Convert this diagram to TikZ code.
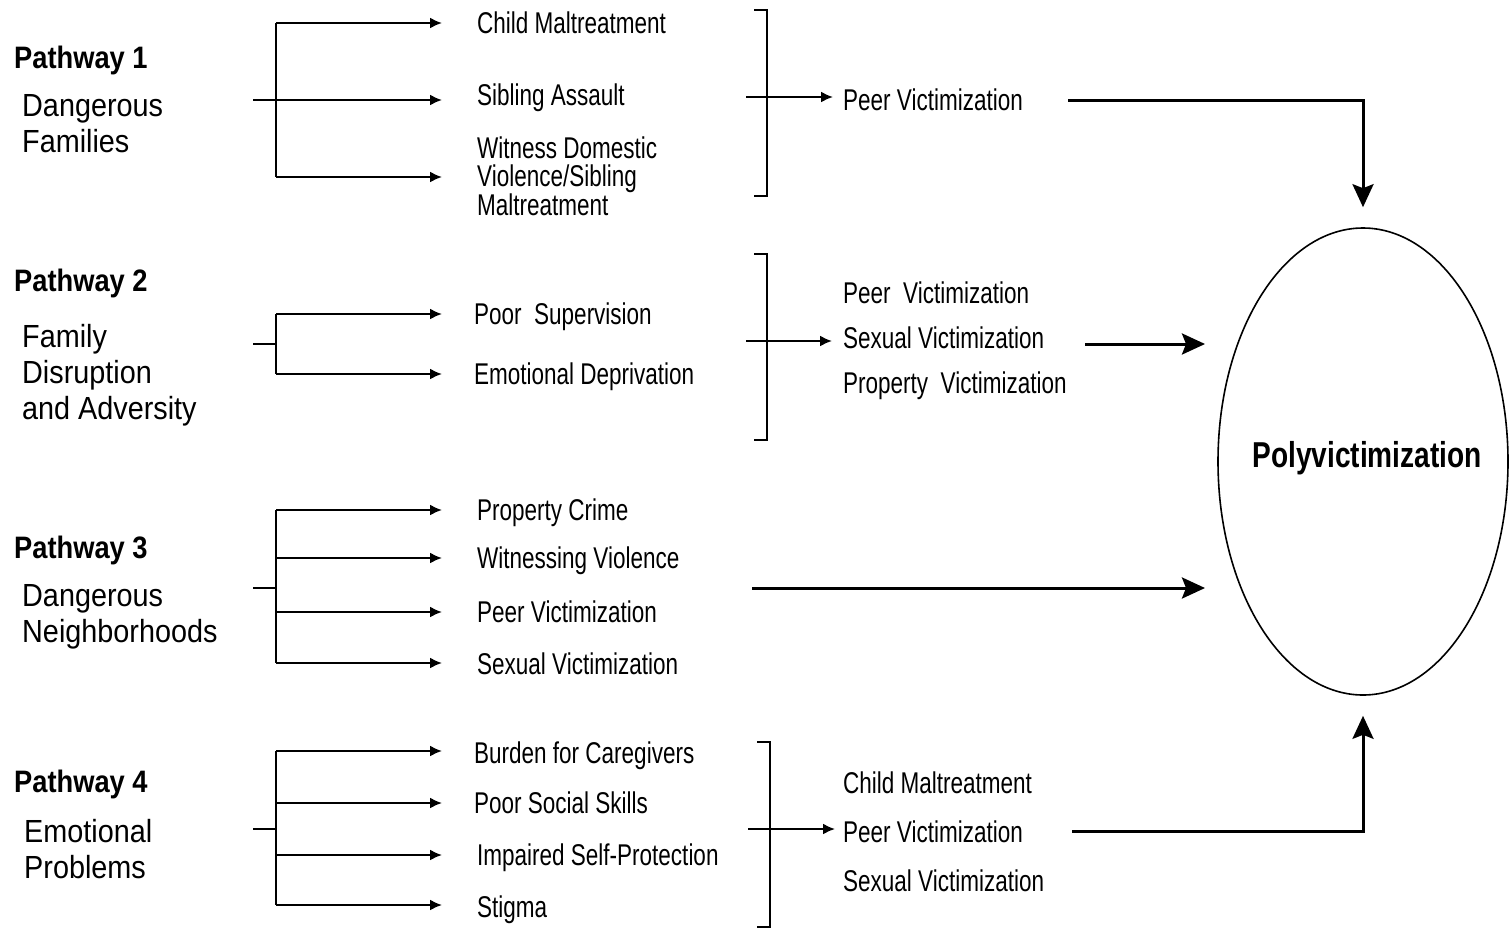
\documentclass[tikz,border=0pt]{standalone}
\usepackage{fontspec}
\setmainfont{Liberation Sans}
\newfontfamily\itemfamily[FakeStretch=0.75]{Liberation Sans}
\newfontfamily\headfamily[FakeStretch=0.88]{Liberation Sans}
\newfontfamily\descfamily[FakeStretch=0.9]{Liberation Sans}
\newfontfamily\polyfamily[FakeStretch=0.78]{Liberation Sans}
\usetikzlibrary{arrows.meta,shapes.geometric}
\begin{document}
\begin{tikzpicture}[x=1pt,y=-1pt,
  line/.style={line width=2pt},
  arr/.style={line width=2pt,-{Latex[length=12pt,width=11pt]}},
  bigarr/.style={line width=3pt,-{Stealth[length=23pt,width=21pt,inset=4pt]}},
  head/.style={anchor=west,inner sep=0pt,font=\headfamily\bfseries\fontsize{31}{34}\selectfont,text height=22pt,text depth=0pt},
  desc/.style={anchor=base west,inner sep=0pt,align=left,font=\descfamily\fontsize{32}{36}\selectfont},
  item/.style={anchor=west,inner sep=0pt,font=\itemfamily\fontsize{30}{30}\selectfont,text height=21.5pt,text depth=0pt},
  itemml/.style={anchor=base west,inner sep=0pt,align=left,font=\itemfamily\fontsize{30}{28.5}\selectfont},
  ellnode/.style={draw,ellipse,line width=1.6pt,inner sep=0pt,minimum width=290pt,minimum height=467pt},
  polytext/.style={inner sep=0pt,font=\polyfamily\bfseries\fontsize{36}{38}\selectfont}
]
\useasboundingbox (0,0) rectangle (1512,930);
\coordinate (tip) at (442,0);

% ---------- Polyvictimization ----------
\node[ellnode] (E) at (1363,461.5) {};
\node[polytext] (pv) at (1367,458) {Polyvictimization};

% ---------- Pathway 1 ----------
\node[head] (p1) at (14,57) {Pathway 1};
\node[desc] (d1) at (22,152) {Dangerous\\Families};
\node[item] (a1) at (477,23) {Child Maltreatment};
\node[item] (a2) at (477,95) {Sibling Assault};
\node[itemml] (a3) at (477,215) {Witness Domestic\\Violence/Sibling\\Maltreatment};
\node[item] (r1) at (843,100) {Peer Victimization};
\coordinate (s1) at (253,100);
\coordinate (v1a) at (276,23);
\coordinate (v1b) at (276,177);
\draw[line] (v1a) -- (v1b);
\draw[arr] (v1a) -- (tip |- v1a);
\draw[arr] (v1b) -- (tip |- v1b);
\draw[arr] (s1) -- (tip |- s1);
\coordinate (b1t) at (767,10);
\coordinate (b1b) at (767,196);
\draw[line] ([xshift=-13pt]b1t) -- (b1t) -- (b1b) -- ([xshift=-13pt]b1b);
\coordinate (c1) at (746,97);
\coordinate (c1e) at (833,97);
\draw[arr] (c1) -- (c1e);
\coordinate (o1) at (1068,100);
\draw[bigarr] (o1) -| ([yshift=20pt]E.north);

% ---------- Pathway 2 ----------
\node[head] (p2) at (14,280) {Pathway 2};
\node[desc] (d2) at (22,419) {Family\\Disruption\\and Adversity};
\node[item] (b1) at (474,314) {Poor~~Supervision};
\node[item] (b2) at (474,374) {Emotional Deprivation};
\node[item] (r21) at (843,293) {Peer~~Victimization};
\node[item] (r22) at (843,338) {Sexual Victimization};
\node[item] (r23) at (843,383) {Property~~Victimization};
\coordinate (s2) at (253,344);
\coordinate (v2a) at (276,314);
\coordinate (v2b) at (276,374);
\draw[line] (s2) -- (v2a |- s2);
\draw[line] (v2a) -- (v2b);
\draw[arr] (v2a) -- (tip |- v2a);
\draw[arr] (v2b) -- (tip |- v2b);
\coordinate (b2t) at (767,254);
\coordinate (b2b) at (767,440);
\draw[line] ([xshift=-13pt]b2t) -- (b2t) -- (b2b) -- ([xshift=-13pt]b2b);
\coordinate (c2) at (746,341);
\coordinate (c2e) at (832,341);
\draw[arr] (c2) -- (c2e);
\coordinate (o2) at (1085,344);
\coordinate (e2) at (1205,344);
\draw[bigarr] (o2) -- (e2);

% ---------- Pathway 3 ----------
\node[head] (p3) at (14,547) {Pathway 3};
\node[desc] (d3) at (22,642) {Dangerous\\Neighborhoods};
\node[item] (g1) at (477,510) {Property Crime};
\node[item] (g2) at (477,558) {Witnessing Violence};
\node[item] (g3) at (477,612) {Peer Victimization};
\node[item] (g4) at (477,664) {Sexual Victimization};
\coordinate (s3) at (253,588);
\coordinate (v3a) at (276,510);
\coordinate (v3b) at (276,663);
\draw[line] (s3) -- (v3a |- s3);
\draw[line] (v3a) -- (v3b);
\draw[arr] (v3a) -- (tip |- g1.west);
\draw[arr] (v3a |- g2.west) -- (tip |- g2.west);
\draw[arr] (v3a |- g3.west) -- (tip |- g3.west);
\draw[arr] (v3b) -- (tip |- v3b);
\coordinate (o3) at (752,588);
\coordinate (e3) at (1205,588);
\draw[bigarr] (o3) -- (e3);

% ---------- Pathway 4 ----------
\node[head] (p4) at (14,781) {Pathway 4};
\node[desc] (d4) at (24,878) {Emotional\\Problems};
\node[item] (h1) at (474,753) {Burden for Caregivers};
\node[item] (h2) at (474,803) {Poor Social Skills};
\node[item] (h3) at (477,855) {Impaired Self-Protection};
\node[item] (h4) at (477,907) {Stigma};
\node[item] (r41) at (843,783) {Child Maltreatment};
\node[item] (r42) at (843,832) {Peer Victimization};
\node[item] (r43) at (843,881) {Sexual Victimization};
\coordinate (s4) at (253,829);
\coordinate (v4a) at (276,751);
\coordinate (v4b) at (276,905);
\draw[line] (s4) -- (v4a |- s4);
\draw[line] (v4a) -- (v4b);
\draw[arr] (v4a) -- (tip |- v4a);
\draw[arr] (v4a |- h2.west) -- (tip |- h2.west);
\draw[arr] (v4a |- h3.west) -- (tip |- h3.west);
\draw[arr] (v4b) -- (tip |- v4b);
\coordinate (b4t) at (770,742);
\coordinate (b4b) at (770,927);
\draw[line] ([xshift=-13pt]b4t) -- (b4t) -- (b4b) -- ([xshift=-13pt]b4b);
\coordinate (c4) at (748,829);
\coordinate (c4e) at (835,829);
\draw[arr] (c4) -- (c4e);
\coordinate (o4) at (1072,831);
\draw[bigarr] (o4) -| ([yshift=-20pt]E.south);
\end{tikzpicture}
\end{document}
